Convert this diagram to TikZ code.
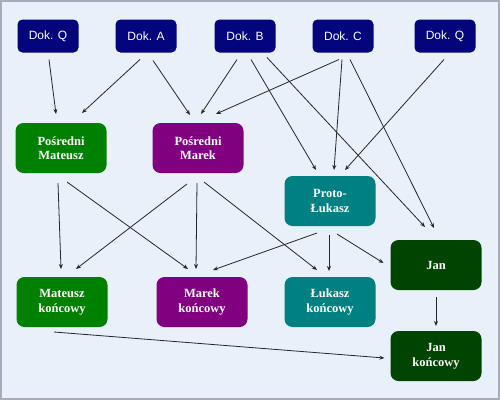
\documentclass[tikz,border=0pt]{standalone}
\usepackage{fontspec}
\setmainfont{Liberation Serif}
\setsansfont{Liberation Sans}
\usepackage{xcolor}
\usetikzlibrary{
  arrows.meta,
  positioning,
}

\definecolor{bgblue}{RGB}{232,240,250}
\definecolor{frame}{RGB}{165,172,186}
\definecolor{doknavy}{RGB}{4,4,124}
\definecolor{matgreen}{RGB}{0,128,0}
\definecolor{marpurple}{RGB}{128,0,128}
\definecolor{lukteal}{RGB}{0,128,128}
\definecolor{jangreen}{RGB}{0,68,0}

\begin{document}
\begin{tikzpicture}[
  x=1pt, y=1pt,
  >={Stealth[length=5pt,width=4pt]},
  dok/.style={
    fill=doknavy, rounded corners=5pt, minimum width=61pt,
    minimum height=33pt, inner sep=1pt, outer sep=0pt,
    text=white, font=\sffamily\fontsize{12}{14}\selectfont,
  },
  gospel/.style={
    rounded corners=8pt, minimum width=91pt, minimum height=50pt,
    inner sep=2pt, outer sep=0pt, align=center, text=white,
    font=\bfseries\fontsize{12.5}{14.5}\selectfont,
  },
  mat/.style={gospel, fill=matgreen},
  mar/.style={gospel, fill=marpurple},
  luk/.style={gospel, fill=lukteal},
  jan/.style={gospel, fill=jangreen},
  link/.style={->, line width=0.8pt, color=black!85},
]

% ── Background ──────────────────────────────────────────────────────
\useasboundingbox (0,0) rectangle (500,-400);
\fill[bgblue] (0,0) rectangle (500,-400);
\draw[frame, line width=1.6pt] (1,-1) rectangle (499,-399);

% ── Sources ─────────────────────────────────────────────────────────
\node[dok] (dokq1) at (48,-36) {Dok. Q};
\node[dok, right=37pt of dokq1] (doka) {Dok. A};
\node[dok, right=38pt of doka] (dokb) {Dok. B};
\node[dok, right=37pt of dokb] (dokc) {Dok. C};
\node[dok, right=41pt of dokc] (dokq2) {Dok. Q};

% ── Intermediate ────────────────────────────────────────────────────
\node[mat] (pomat) at (61,-148) {Pośredni\\Mateusz};
\node[mar, right=46pt of pomat] (pomar) {Pośredni\\Marek};
\node[luk] (proto) at (330,-201) {Proto-\\Łukasz};
\node[jan] (jan) at (436,-265) {Jan};

% ── Final ───────────────────────────────────────────────────────────
\node[mat] (matk) at (62,-302) {Mateusz\\końcowy};
\node[mar, right=49pt of matk] (mark) {Marek\\końcowy};
\node[luk, right=37pt of mark] (lukk) {Łukasz\\końcowy};
\node[jan, below=41pt of jan] (jank) {Jan\\końcowy};

% ── Connections: sources ────────────────────────────────────────────
\draw[link] ([shift={(1,-7)}]dokq1.south) -- ([shift={(-5,9)}]pomat.north);
\draw[link] ([shift={(-6,-7)}]doka.south) -- ([shift={(21,10)}]pomat.north);
\draw[link] ([shift={(7,-8)}]doka.south) -- ([shift={(-8,8)}]pomar.north);
\draw[link] ([shift={(-8,-7)}]dokb.south) -- ([shift={(3,9)}]pomar.north);
\draw[link] ([shift={(-4,-7)}]dokc.south) -- ([shift={(18,9)}]pomar.north);
\draw[link] ([shift={(6,-7)}]dokb.south) -- ([shift={(-14,6)}]proto.north);
\draw[link] ([shift={(22,-5)}]dokb.south) -- ([shift={(-11,13)}]jan.north);
\draw[link] ([shift={(-1,-7)}]dokc.south) -- ([shift={(4,6)}]proto.north);
\draw[link] ([shift={(7,-7)}]dokc.south) -- ([shift={(-2,12)}]jan.north);
\draw[link] ([shift={(-1,-7)}]dokq2.south) -- ([shift={(15,6)}]proto.north);

% ── Connections: intermediate ───────────────────────────────────────
\draw[link] ([shift={(-3,-10)}]pomat.south) -- ([shift={(-1,8)}]matk.north);
\draw[link] ([shift={(6,-9)}]pomat.south) -- ([shift={(-14,8)}]mark.north);
\draw[link] ([shift={(-11,-11)}]pomar.south) -- ([shift={(14,8)}]matk.north);
\draw[link] ([shift={(-1,-10)}]pomar.south) -- ([shift={(-6,8)}]mark.north);
\draw[link] ([shift={(6,-9)}]pomar.south) -- ([shift={(-13,7)}]lukk.north);
\draw[link] ([shift={(-13,-7)}]proto.south) -- ([shift={(11,7)}]mark.north);
\draw[link] ([shift={(-1,-9)}]proto.south) -- ([shift={(-1,6)}]lukk.north);
\draw[link] ([shift={(7,-8)}]proto.south) -- ([shift={(-7,2)}]jan.west);

% ── Connections: final ──────────────────────────────────────────────
\draw[link] ([shift={(0,-7)}]jan.south) -- ([shift={(0,5)}]jank.north);
\draw[link] ([shift={(-8,-5)}]matk.south) -- ([shift={(-6,-2)}]jank.west);

\end{tikzpicture}
\end{document}
